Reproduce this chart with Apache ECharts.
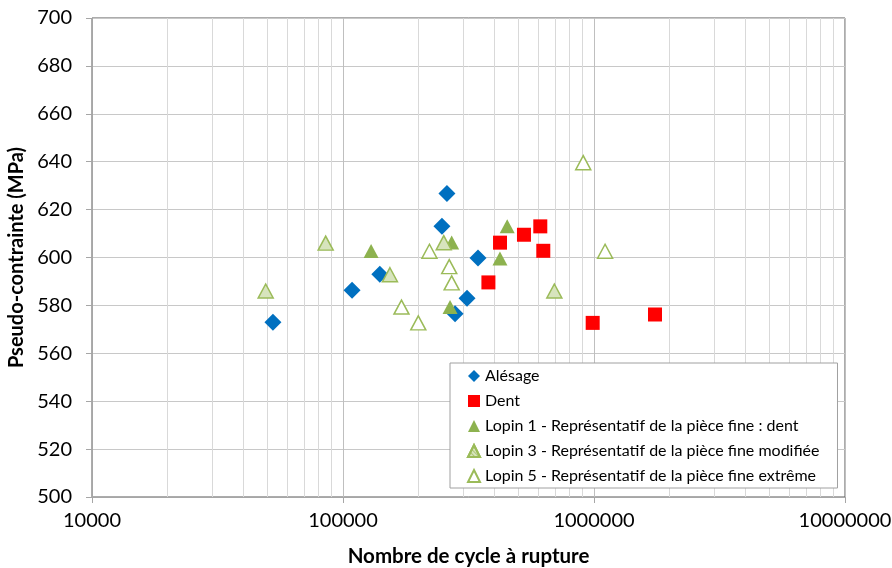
<!DOCTYPE html>
<html lang="fr">

<head>
    <meta charset="UTF-8">
    <title>Pseudo-contrainte</title>
    <script src="https://cdn.jsdelivr.net/npm/echarts@6/dist/echarts.min.js"></script>
    <style>
        body { margin: 0; background: #fff; }
    </style>
</head>

<body>
    <div id="main" style="width: 892px;height:568px;"></div>
    <script type="text/javascript">
        // [cycles, MPa]
        var alesage = [[52600, 573], [108700, 586.3], [140200, 593], [247800, 613], [259500, 626.7],
            [345000, 599.8], [312000, 583], [279500, 576.5]];
        var dent = [[379600, 589.6], [422300, 606.2], [526000, 609.5], [611000, 613], [628000, 602.8],
            [988000, 572.7], [1750000, 576.2]];
        var lopin1 = [[129400, 602.7], [271000, 606.3], [267000, 579.3], [451000, 613], [422000, 599.6]];
        var lopin3 = [[49200, 586], [85300, 606], [153800, 592.8], [252000, 606.2], [695000, 586]];
        var lopin5 = [[221000, 602.6], [265000, 596.2], [271000, 589.4], [171000, 579.3], [199500, 572.7],
            [906000, 639.6], [1107000, 602.6]];

        var seriesNames = ['Alésage', 'Dent', 'Lopin 1 - Représentatif de la pièce fine : dent',
            'Lopin 3 - Représentatif de la pièce fine modifiée', 'Lopin 5 - Représentatif de la pièce fine extrême'];
        var minorTicks = [20000, 30000, 40000, 50000, 60000, 70000, 80000, 90000,
            200000, 300000, 400000, 500000, 600000, 700000, 800000, 900000,
            2000000, 3000000, 4000000, 5000000, 6000000, 7000000, 8000000, 9000000];

        var font = 'Lato, "Open Sans", sans-serif';
        var chart = echarts.init(document.getElementById('main'));

        var option = {
            animation: false,
            textStyle: { fontFamily: font },
            grid: {
                left: 92, right: 47, top: 18, bottom: 71,
                outerBoundsMode: 'none',
                show: true, borderColor: '#595959', borderWidth: 1
            },
            legend: {
                orient: 'vertical',
                left: 450, top: 363,
                padding: [4, 18, 3, 17],
                itemGap: 7,
                itemWidth: 12, itemHeight: 12,
                backgroundColor: '#fff',
                borderColor: '#a0a0a0', borderWidth: 1,
                textStyle: { fontFamily: font, fontSize: 16, color: '#000', lineHeight: 18 },
                data: seriesNames
            },
            xAxis: [{
                type: 'log', logBase: 10, min: 10000, max: 10000000,
                name: 'Nombre de cycle à rupture',
                nameLocation: 'middle', nameGap: 49,
                nameTextStyle: { fontFamily: font, fontSize: 20.5, fontWeight: 'bold', color: '#000' },
                axisLine: { lineStyle: { color: '#a6a6a6' } },
                axisTick: { show: true, length: 6, lineStyle: { color: '#a6a6a6' } },
                axisLabel: {
                    fontSize: 20, color: '#000', margin: 14,
                    formatter: function (v) { return String(Math.round(v)); }
                },
                splitLine: { show: true, lineStyle: { color: '#bfbfbf' } }
            }, {
                type: 'log', logBase: 10, min: 10000, max: 10000000,
                position: 'bottom',
                axisLine: { show: false },
                axisTick: { show: false, customValues: minorTicks },
                axisLabel: { show: false },
                splitLine: { show: true, lineStyle: { color: '#d9d9d9' } }
            }],
            yAxis: {
                type: 'value', min: 500, max: 700, interval: 20,
                name: 'Pseudo-contrainte (MPa)',
                nameLocation: 'middle', nameGap: 58,
                nameTextStyle: { fontFamily: font, fontSize: 20, fontWeight: 'bold', color: '#000' },
                axisLine: { show: true, lineStyle: { color: '#a6a6a6' } },
                axisTick: { show: true, length: 6, lineStyle: { color: '#a6a6a6' } },
                axisLabel: { fontSize: 20, color: '#000', margin: 20 },
                splitLine: { show: true, lineStyle: { color: '#c8c8c8' } }
            },
            series: [{
                name: seriesNames[0], type: 'scatter', data: alesage,
                symbol: 'diamond', symbolSize: 17,
                itemStyle: { color: '#0070c0', opacity: 1 }
            }, {
                name: seriesNames[1], type: 'scatter', data: dent,
                symbol: 'rect', symbolSize: 14,
                itemStyle: { color: '#ff0000', opacity: 1 }
            }, {
                name: seriesNames[2], type: 'scatter', data: lopin1,
                symbol: 'triangle', symbolSize: [15, 14],
                itemStyle: { color: '#8db24f', opacity: 1 }
            }, {
                name: seriesNames[3], type: 'scatter', data: lopin3,
                symbol: 'triangle', symbolSize: [15, 14],
                itemStyle: {
                    color: '#d7e4bd', borderColor: '#9bbb59', borderWidth: 1.5, opacity: 1,
                    decal: { symbol: 'rect', dashArrayX: [1, 0], dashArrayY: [1, 2], rotation: Math.PI / 4, color: 'rgba(155,187,89,0.7)' }
                }
            }, {
                name: seriesNames[4], type: 'scatter', data: lopin5,
                symbol: 'triangle', symbolSize: [15, 14],
                itemStyle: { color: '#fff', borderColor: '#9bbb59', borderWidth: 1.5, opacity: 1 }
            }]
        };

        chart.setOption(option);
    </script>
</body>

</html>
